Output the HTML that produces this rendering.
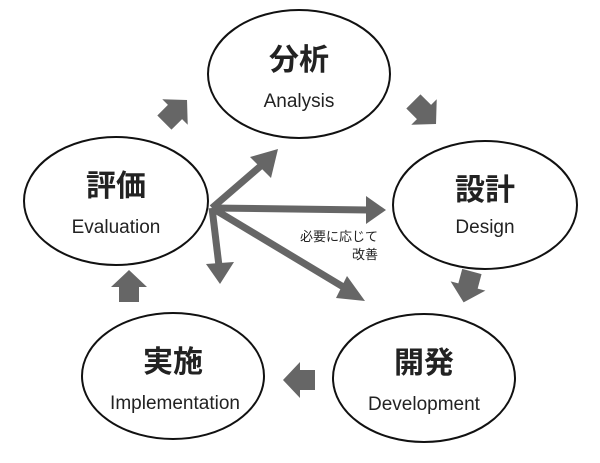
<!DOCTYPE html>
<html><head><meta charset="utf-8"><style>
html,body{margin:0;padding:0;background:#fff;}
</style></head><body>
<svg width="600" height="458" viewBox="0 0 600 458" xmlns="http://www.w3.org/2000/svg">
<defs>
<path id="ba" d="M-15,-10 L0,-10 L0,-18 L17,0 L0,18 L0,10 L-15,10 Z" fill="#666"/>
</defs>
<g fill="none" stroke="#111" stroke-width="2">
<ellipse cx="299" cy="74" rx="91" ry="64"/>
<ellipse cx="485" cy="205" rx="92" ry="64"/>
<ellipse cx="116" cy="201" rx="92" ry="64"/>
<ellipse cx="424" cy="378" rx="91" ry="64"/>
<ellipse cx="173" cy="376" rx="91" ry="63"/>
</g>
<use href="#ba" transform="translate(175,112) rotate(-45)"/>
<use href="#ba" transform="translate(424,112) rotate(45)"/>
<use href="#ba" transform="translate(468,286) rotate(105)"/>
<use href="#ba" transform="translate(300,380) rotate(180)"/>
<use href="#ba" transform="translate(129,287) rotate(-90)"/>
<g stroke="#666" stroke-width="7" fill="none">
<line x1="212" y1="208" x2="263" y2="164"/>
<line x1="212" y1="208" x2="368" y2="210"/>
<line x1="212" y1="208" x2="219" y2="266"/>
<line x1="212" y1="208" x2="350" y2="291"/>
</g>
<g fill="#666">
<polygon points="278,149 250,157 271,178"/>
<polygon points="386,210 366,196 366,224"/>
<polygon points="220,284 206,264 234,262"/>
<polygon points="365,301 347,276 336,298"/>
</g>
<g font-family="'Liberation Sans','Noto Sans CJK JP',sans-serif" text-anchor="middle" fill="#222">
<g font-weight="bold" font-size="30">
<text x="299" y="70">分析</text>
<text x="485" y="200">設計</text>
<text x="116" y="196">評価</text>
<text x="424" y="373">開発</text>
<text x="173" y="372">実施</text>
</g>
<g font-size="19">
<text x="299" y="107">Analysis</text>
<text x="485" y="233">Design</text>
<text x="116" y="233">Evaluation</text>
<text x="424" y="410">Development</text>
<text x="175" y="409">Implementation</text>
</g>
<g font-size="13" text-anchor="end">
<text x="378" y="241">必要に応じて</text>
<text x="378" y="259">改善</text>
</g>
</g>
</svg>
</body></html>
